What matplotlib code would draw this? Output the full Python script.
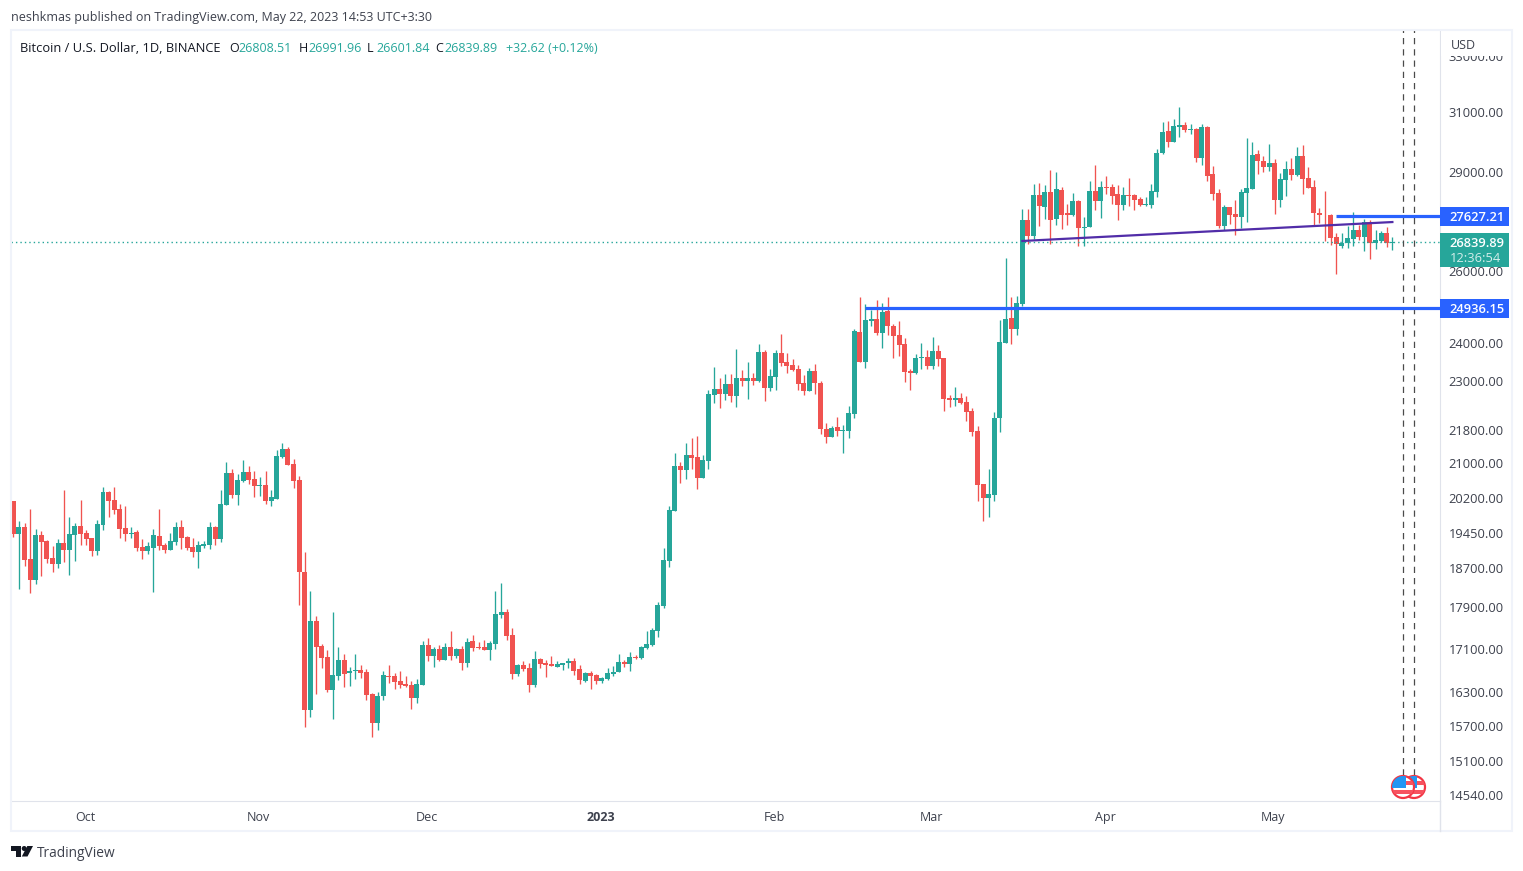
import pandas as pd
import matplotlib
matplotlib.use("Agg")
import matplotlib.pyplot as plt
import matplotlib.dates as mdates
from matplotlib.patches import Circle, Polygon, Rectangle
from matplotlib.transforms import ScaledTranslation

plt.rcParams["font.family"] = ["Open Sans", "DejaVu Sans"]

UP = "#26a69a"
DOWN = "#f05350"
BLUE = "#2962ff"
PURPLE = "#512da8"
BORDER = "#e0e3eb"
FRAME = "#f0f3fa"
TEXT = "#131722"
AXIS_TEXT = "#3d414d"

opens = [20142, 19418, 19570, 18889, 18454, 19397, 19270, 18910, 18785, 19226,
         19077, 19397, 19590, 19440, 19340, 19055, 19620, 20343, 20165, 19960,
         19550, 19418, 19462, 19140, 19055, 19120, 19375, 19180, 19077, 19247,
         19570, 19360, 19140, 19033, 19162, 19180, 19570, 19312, 20055, 20776,
         20275, 20590, 20800, 20638, 20478, 20500, 20142, 20185, 21140, 21340,
         20985, 20612, 18625, 15981, 17634, 17151, 16945, 16340, 16590, 16890,
         16650, 16686, 16704, 16668, 16270, 15752, 16220, 16590, 16590, 16500,
         16450, 16430, 16195, 16430, 17170, 16960, 17090, 16890, 17130, 16960,
         17090, 16830, 17240, 17130, 17130, 17070, 17190, 17760, 17820, 17365,
         16628, 16797, 16740, 16430, 16908, 16833, 16815, 16760, 16797, 16833,
         16870, 16722, 16500, 16650, 16612, 16500, 16540, 16630, 16665, 16852,
         16815, 16945, 16925, 17115, 17175, 17440, 17935, 18850, 19925, 20940,
         20850, 21190, 21140, 20660, 21050, 22665, 22810, 22680, 22930, 22630,
         23085, 23010, 23085, 23010, 23760, 22825, 23110, 23735, 23495, 23420,
         23315, 22955, 22760, 23265, 22955, 21815, 21625, 21865, 21770, 21770,
         22190, 24296, 23499, 24593, 24640, 24272, 24855, 24453, 24218, 23960,
         23275, 23225, 23590, 23640, 23395, 23785, 23590, 22578, 22527, 22578,
         22475, 22250, 21760, 20533, 20211, 20285, 22087, 24000, 24665, 24365,
         25058, 27498, 27015, 28268, 27900, 28365, 27530, 28430, 27710, 27650,
         28085, 27265, 27295, 28410, 28085, 28540, 28540, 28310, 27970, 28268,
         28268, 28140, 27970, 27970, 28368, 29621, 30355, 30000, 30495, 30555,
         30390, 30425, 29458, 30489, 28940, 28337, 27330, 27902, 27680, 27590,
         28337, 28460, 29600, 29376, 29165, 29305, 28110, 28735, 29115, 28910,
         29530, 28820, 28515, 27730, 27670, 27670, 27000, 26730, 26800, 26920,
         27210, 26985, 27440, 26800, 26860, 27095, 26808.51]
highs = [20142, 19703, 19660, 19970, 19527, 19483, 19291, 19162, 19312, 20388,
         19777, 19660, 20165, 19505, 19340, 19725, 20457, 20365, 20457, 20075,
         20030, 19570, 19505, 19312, 19247, 19527, 19960, 19226, 19440, 19682,
         19725, 19375, 19340, 19270, 19270, 19682, 19590, 20388, 21030, 20870,
         20745, 21080, 20945, 20825, 20680, 20825, 20388, 21315, 21480, 21390,
         21100, 20700, 19033, 18234, 17730, 17190, 17077, 17820, 17132, 17009,
         16760, 17009, 16797, 16722, 16288, 16305, 16686, 16797, 16650, 16686,
         16590, 16490, 16540, 17245, 17305, 17130, 17170, 17210, 17440, 17110,
         17150, 17305, 17360, 17220, 17260, 17240, 18234, 18395, 17860, 17500,
         16815, 16870, 16833, 17060, 16926, 16890, 16960, 16870, 16833, 16926,
         16926, 16797, 16668, 16686, 16628, 16570, 16740, 16780, 17005, 16890,
         17040, 16985, 17155, 17430, 17500, 18015, 19120, 20030, 21240, 21030,
         21470, 21590, 21640, 21190, 22775, 23365, 23085, 23185, 23185, 23840,
         23290, 23495, 23210, 23970, 23815, 23315, 23815, 24240, 23735, 23575,
         23420, 23160, 23340, 23445, 23010, 21960, 21890, 22110, 21915, 22385,
         24367, 25252, 25058, 24880, 25173, 25080, 25252, 24505, 24580, 24125,
         23320, 23710, 23990, 23810, 24170, 23940, 23590, 22655, 22860, 22705,
         22625, 22325, 21880, 20533, 20880, 22240, 24617, 26370, 25252, 25280,
         27850, 27830, 28620, 28650, 28590, 29070, 29000, 28530, 27980, 28340,
         28118, 27590, 28730, 29225, 28730, 28890, 28620, 28580, 28530, 28815,
         28300, 28200, 28200, 28620, 29750, 30656, 30680, 30760, 31170, 30660,
         30590, 30460, 30590, 30520, 29200, 28460, 27965, 27902, 28120, 28460,
         30120, 30000, 29730, 29510, 29920, 29410, 28960, 29365, 29460, 29810,
         29870, 29155, 28735, 27870, 28400, 27700, 27110, 27110, 27330, 27735,
         27340, 27530, 27505, 27210, 27160, 27300, 26991.96]
lows = [19360, 18270, 18744, 18190, 18372, 18535, 18805, 18623, 18702, 18826,
        18559, 18847, 19175, 19175, 18950, 18970, 19505, 19777, 19850, 19340,
        19270, 19340, 19055, 18889, 18990, 18210, 19077, 19010, 19077, 19175,
        19100, 19077, 18930, 18702, 19120, 19100, 19180, 19247, 20055, 20210,
        20055, 20570, 20525, 20230, 20255, 20075, 20030, 20185, 21115, 20965,
        20440, 17950, 15685, 15850, 16270, 16740, 16305, 15822, 16520, 16393,
        16405, 16540, 16552, 16160, 15500, 15630, 16160, 16470, 16355, 16375,
        16390, 16000, 16105, 16430, 16870, 16760, 16870, 16890, 16890, 16926,
        16704, 16760, 17050, 17090, 17070, 16890, 17090, 17690, 17270, 16540,
        16590, 16686, 16290, 16393, 16740, 16570, 16778, 16760, 16704, 16740,
        16612, 16450, 16480, 16355, 16450, 16470, 16520, 16592, 16665, 16760,
        16680, 16905, 16905, 17095, 17155, 17325, 17895, 18730, 19925, 20545,
        20640, 20870, 20415, 20660, 20870, 22445, 22330, 22530, 22475, 22350,
        22890, 22550, 22910, 22985, 22505, 22750, 22775, 23395, 23215, 23265,
        22775, 22665, 22760, 22680, 21695, 21470, 21625, 21650, 21250, 21600,
        22087, 23499, 23345, 24453, 24218, 23870, 24218, 23600, 23650, 22990,
        22785, 23180, 23320, 23320, 23320, 23395, 22250, 22350, 22375, 22425,
        22013, 21635, 20131, 19700, 19785, 20150, 21738, 24000, 23970, 24218,
        24990, 26780, 26930, 27330, 27530, 26790, 27350, 27240, 27350, 27620,
        26720, 26720, 27295, 27810, 27570, 28300, 27980, 27500, 27810, 27930,
        27810, 27930, 27930, 27880, 28215, 29590, 29830, 29970, 30140, 30320,
        30250, 29340, 29225, 28730, 28122, 27270, 27200, 27385, 27050, 27270,
        27434, 28460, 28940, 28998, 29030, 27700, 27910, 28240, 28735, 28876,
        28305, 28490, 27320, 27415, 26870, 26765, 25904, 26650, 26650, 26730,
        26885, 26580, 26340, 26620, 26830, 26680, 26601.84]
closes = [19418, 19570, 18868, 18454, 19397, 19247, 18889, 18785, 19226, 19077,
          19418, 19590, 19418, 19312, 19055, 19640, 20343, 20142, 19940, 19527,
          19418, 19440, 19120, 19055, 19162, 19397, 19162, 19077, 19270, 19570,
          19340, 19120, 19033, 19180, 19205, 19570, 19312, 20075, 20776, 20275,
          20612, 20800, 20612, 20478, 20500, 20142, 20230, 21170, 21340, 20965,
          20590, 18625, 15981, 17634, 17132, 16926, 16340, 16612, 16890, 16628,
          16686, 16704, 16650, 16250, 15752, 16235, 16612, 16570, 16480, 16430,
          16410, 16195, 16450, 17170, 16960, 17090, 16890, 17130, 16960, 17090,
          16830, 17220, 17110, 17110, 17070, 17200, 17780, 17820, 17345, 16628,
          16797, 16722, 16430, 16908, 16815, 16797, 16778, 16815, 16833, 16870,
          16686, 16520, 16650, 16590, 16500, 16552, 16650, 16665, 16852, 16815,
          16945, 16925, 17135, 17190, 17460, 17955, 18870, 19943, 20940, 20850,
          21190, 21120, 20660, 21075, 22680, 22810, 22680, 22930, 22630, 23085,
          23010, 23085, 23010, 23760, 22825, 23135, 23735, 23470, 23395, 23290,
          22930, 22760, 23265, 22955, 21815, 21625, 21840, 21770, 21792, 22210,
          24319, 23499, 24617, 24640, 24272, 24830, 24453, 24195, 23937, 23250,
          23225, 23590, 23640, 23395, 23785, 23565, 22552, 22527, 22578, 22450,
          22225, 21738, 20510, 20211, 20300, 22095, 24023, 24640, 24365, 25080,
          27498, 27015, 28268, 27930, 28365, 27500, 28460, 27650, 27650, 28085,
          27265, 27295, 28410, 28085, 28540, 28510, 28250, 27970, 28268, 28235,
          28118, 27970, 28000, 28410, 29621, 30320, 30000, 30520, 30555, 30390,
          30425, 29470, 30489, 28876, 28305, 27330, 27902, 27650, 27590, 28375,
          28500, 29570, 29370, 29165, 29305, 28110, 28770, 29115, 28910, 29530,
          28790, 28490, 27730, 27640, 27640, 26950, 26770, 26815, 26950, 27210,
          26985, 27440, 26800, 26885, 27095, 26808, 26839.89]

price_ticks = [33000, 31000, 29000, 26000, 24000, 23000, 21800, 21000, 20200,
               19450, 18700, 17900, 17100, 16300, 15700, 15100, 14540]
month_ticks = ["2022-10-01", "2022-11-01", "2022-12-01", "2023-01-01",
               "2023-02-01", "2023-03-01", "2023-04-01", "2023-05-01"]
month_labels = ["Oct", "Nov", "Dec", "2023", "Feb", "Mar", "Apr", "May"]
event_dates = ["2023-05-23 20:00", "2023-05-25 20:00"]

last_price = 26839.89
level_high = 27627.21
level_low = 24936.15
level_high_start = "2023-05-12"
level_low_start = "2023-02-17"
trend_dates = ["2023-03-17", "2023-05-22"]
trend_prices = [26870, 27440]

dates = pd.date_range("2022-09-18", periods=len(opens), freq="D")
df = pd.DataFrame({"open": opens, "high": highs, "low": lows, "close": closes}, index=dates)
df["x"] = mdates.date2num(df.index)
df["color"] = [UP if c >= o else DOWN for o, c in zip(df["open"], df["close"])]


def num(day):
    return mdates.date2num(pd.Timestamp(day))


W, H = 1523, 871
fig = plt.figure(figsize=(W / 100, H / 100), dpi=100, facecolor="white")
ax = fig.add_axes([11 / W, (H - 801) / H, 1429 / W, 771 / H])

ax.set_yscale("log")
ax.vlines(df["x"], df["low"], df["high"], colors=df["color"], linewidth=0.95, zorder=2)
ax.bar(df["x"], (df["close"] - df["open"]).abs(), bottom=df[["open", "close"]].min(axis=1),
       width=0.89, color=df["color"], linewidth=0, zorder=3)

x0 = df["x"].iloc[0]
ax.set_xlim(x0 - 2.3 / 5.606, x0 + 1426.7 / 5.606)
ax.set_ylim(14444, 33949)

# levels and trend line
ax.axhline(last_price, color=UP, linewidth=1, linestyle=(0, (1, 2.2)), zorder=4)
ax.hlines(level_high, num(level_high_start), ax.get_xlim()[1], color=BLUE, linewidth=2.3, zorder=5)
ax.hlines(level_low, num(level_low_start), ax.get_xlim()[1], color=BLUE, linewidth=2.3, zorder=5)
ax.plot([num(d) for d in trend_dates], trend_prices, color=PURPLE, linewidth=1.6, zorder=5)

for d in event_dates:
    ax.axvline(num(d), ymin=26 / 771, ymax=1, color="#4a4a4a", linewidth=0.9,
               linestyle=(0, (5, 4)), zorder=4)

ax.yaxis.tick_right()
ax.minorticks_off()
ax.set_yticks(price_ticks)
ax.set_yticklabels([f"{p:.2f}" for p in price_ticks], fontsize=9.3, color=AXIS_TEXT)
ax.tick_params(axis="y", length=0, pad=6.3, which="both")
ax.set_xticks([num(d) for d in month_ticks])
ax.set_xticklabels(month_labels, fontsize=9, color=AXIS_TEXT)
ax.get_xticklabels()[3].set_fontweight("bold")
ax.tick_params(axis="x", length=0, pad=7)
for label in ax.get_xticklabels():
    label.set_transform(label.get_transform() + ScaledTranslation(-1.2 / 100, 0, fig.dpi_scale_trans))
ax.spines["top"].set_visible(False)
ax.spines["left"].set_visible(False)
ax.spines["right"].set_color(BORDER)
ax.spines["bottom"].set_color(BORDER)

# everything around the chart, in pixel coordinates
over = fig.add_axes([0, 0, 1, 1], facecolor="none")
over.set_xlim(0, W)
over.set_ylim(H, 0)
over.axis("off")

over.add_patch(Rectangle((1441, 31), 70, 25, facecolor="white", edgecolor="none"))
over.add_patch(Rectangle((11, 30), 1501, 801, fill=False, edgecolor=FRAME, linewidth=1.5))
over.plot([1440, 1440], [801, 831], color=BORDER, linewidth=1)
over.text(1451, 45.5, "USD", fontsize=9, color=AXIS_TEXT, va="center")

over.text(11, 17.5, "neshkmas published on TradingView.com, May 22, 2023 14:53 UTC+3:30",
          fontsize=9, color="#3d414d", va="center")
over.text(20, 48, "Bitcoin / U.S. Dollar, 1D, BINANCE", fontsize=9.3, color=TEXT, va="center")
for x, label, value in [(229, "O", "26808.51"), (299, "H", "26991.96"),
                        (367, "L", "26601.84"), (435, "C", "26839.89")]:
    over.text(x, 48, label, fontsize=9, color=TEXT, va="center")
    over.text(x + 9, 48, value, fontsize=9, color=UP, va="center")
over.text(506, 48, "+32.62 (+0.12%)", fontsize=9, color=UP, va="center")

for top, bottom, color, label in [(207, 226, BLUE, f"{level_high:.2f}"),
                                  (299, 318, BLUE, f"{level_low:.2f}")]:
    over.add_patch(Rectangle((1440, top), 69, bottom - top, facecolor=color, edgecolor="none", zorder=6))
    over.text(1449, (top + bottom) / 2 + 0.5, label, fontsize=9.3, color="white", va="center",
              fontweight="semibold", zorder=7)
over.add_patch(Rectangle((1440, 233), 69, 34, facecolor=UP, edgecolor="none", zorder=6))
over.text(1449, 243, f"{last_price:.2f}", fontsize=9.3, color="white", va="center",
          fontweight="semibold", zorder=7)
over.text(1450, 258, "12:36:54", fontsize=9.3, color="#d4eeeb", va="center", zorder=7)

# the two flag badges
for cx in [1414, 1403]:
    ring = Circle((cx, 787), 11, facecolor="white", edgecolor="#f23645", linewidth=1.6, zorder=8)
    over.add_patch(ring)
    for top, left in [(781, cx), (790, cx - 11)]:
        stripe = Rectangle((left, top), 22, 4, facecolor="#f7525f", edgecolor="none", zorder=8)
        over.add_patch(stripe)
        stripe.set_clip_path(ring)
    canton = Rectangle((cx - 11, 776), 14, 12, facecolor="#2196f3", edgecolor="none", zorder=8)
    over.add_patch(canton)
    canton.set_clip_path(ring)

# TradingView logo
over.add_patch(Polygon([(11, 846), (21, 846), (21, 856.5), (16, 856.5), (16, 851), (11, 851)],
                       facecolor=TEXT, edgecolor="none"))
over.add_patch(Circle((24.2, 848.5), 2.5, facecolor=TEXT, edgecolor="none"))
over.add_patch(Polygon([(33, 846), (27.5, 856.5), (21.8, 856.5), (27.3, 846)],
                       facecolor=TEXT, edgecolor="none"))
over.text(37, 853, "TradingView", fontsize=9.9, color="#3d414d", va="center")

fig.savefig("out.png", dpi=100)
